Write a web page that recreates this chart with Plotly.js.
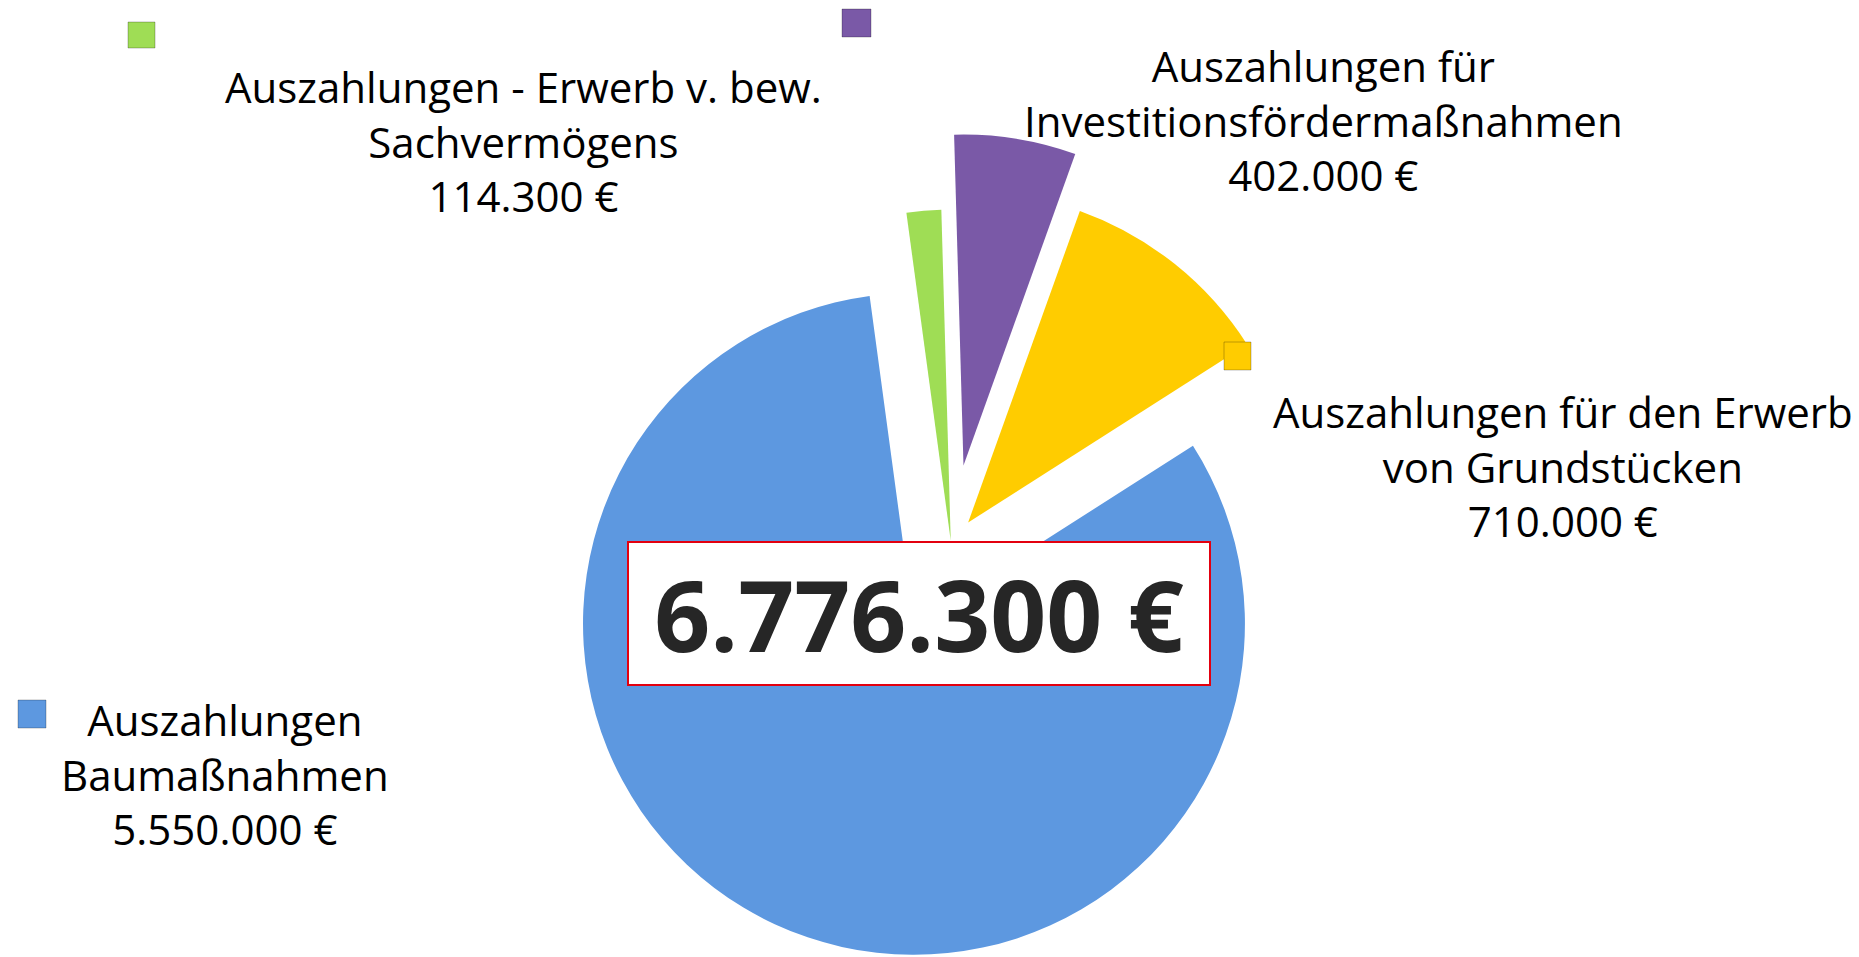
<!DOCTYPE html>
<html>
<head>
<meta charset="utf-8">
<script src="https://cdn.plot.ly/plotly-3.0.1.min.js"></script>
<style>
  html, body { margin: 0; padding: 0; background: #ffffff; overflow: hidden; }
  #chart { width: 1859px; height: 975px; }
</style>
</head>
<body>
<div id="chart"></div>
<script>
// ---- data ----
const categories = [
  "Auszahlungen - Erwerb v. bew.<br>Sachvermögens",
  "Auszahlungen für<br>Investitionsfördermaßnahmen",
  "Auszahlungen für den Erwerb<br>von Grundstücken",
  "Auszahlungen<br>Baumaßnahmen"
];
const values = [114300, 402000, 710000, 5550000];
const colors = ["#9FDD55", "#7A59A7", "#FFCC00", "#5D98E0"];
const pulls = [0.01, 0.24, 0.083, 0.266];

// ---- helpers (layout is slightly taller than the 957px window; the bottom is cropped like the reference) ----
const W = 1859, H = 975;
const px = x => x / W;
const py = y => 1 - y / H;
function fmtEuro(v) {
  const s = String(Math.round(v));
  return s.replace(/\B(?=(\d{3})+(?!\d))/g, ".") + " €";
}
const total = values.reduce((a, b) => a + b, 0);

const labelFont = { family: "Open Sans, Lato, DejaVu Sans, sans-serif", size: 42, color: "#000000" };

// label positions (center x, center y) and legend key boxes (pixels)
const labelPos = [[523, 141], [1323, 120], [1563, 466], [225, 774]];
const keyBoxes = [[128, 22, 155, 48], [842, 9, 871, 37], [1224, 342, 1251, 370], [18, 700, 46, 728]];

const annotations = categories.map((c, i) => ({
  text: c + "<br>" + fmtEuro(values[i]),
  xref: "paper", yref: "paper",
  x: px(labelPos[i][0]), y: py(labelPos[i][1]),
  xanchor: "center", yanchor: "middle",
  align: "center",
  showarrow: false,
  font: labelFont
}));

annotations.push({
  text: "<b>" + fmtEuro(total) + "</b>",
  xref: "paper", yref: "paper",
  x: px(919), y: py(613.5),
  xanchor: "center", yanchor: "middle",
  showarrow: false,
  width: 580, height: 141,
  bgcolor: "#ffffff",
  bordercolor: "#E3000F",
  borderwidth: 2,
  borderpad: 0,
  font: { family: "Open Sans, Lato, DejaVu Sans, sans-serif", size: 98, color: "#262626" }
});

const shapes = keyBoxes.map((b, i) => ({
  type: "rect", xref: "paper", yref: "paper",
  x0: px(b[0]), x1: px(b[2]), y0: py(b[3]), y1: py(b[1]),
  fillcolor: colors[i],
  line: { color: "rgba(0,0,0,0.25)", width: 1 }
}));

const trace = {
  type: "pie",
  labels: categories,
  values: values,
  sort: false,
  direction: "clockwise",
  rotation: -7.7,
  pull: pulls,
  marker: { colors: colors, line: { width: 0 } },
  textinfo: "none",
  hoverinfo: "label+value",
  showlegend: false,
  domain: { x: [px(532), px(1370)], y: [py(963), py(125)] }
};

const layout = {
  width: W, height: H,
  margin: { l: 0, r: 0, t: 0, b: 0, pad: 0 },
  paper_bgcolor: "#ffffff",
  plot_bgcolor: "#ffffff",
  showlegend: false,
  annotations: annotations,
  shapes: shapes
};

Plotly.newPlot("chart", [trace], layout, { displayModeBar: false, staticPlot: true });
</script>
</body>
</html>
